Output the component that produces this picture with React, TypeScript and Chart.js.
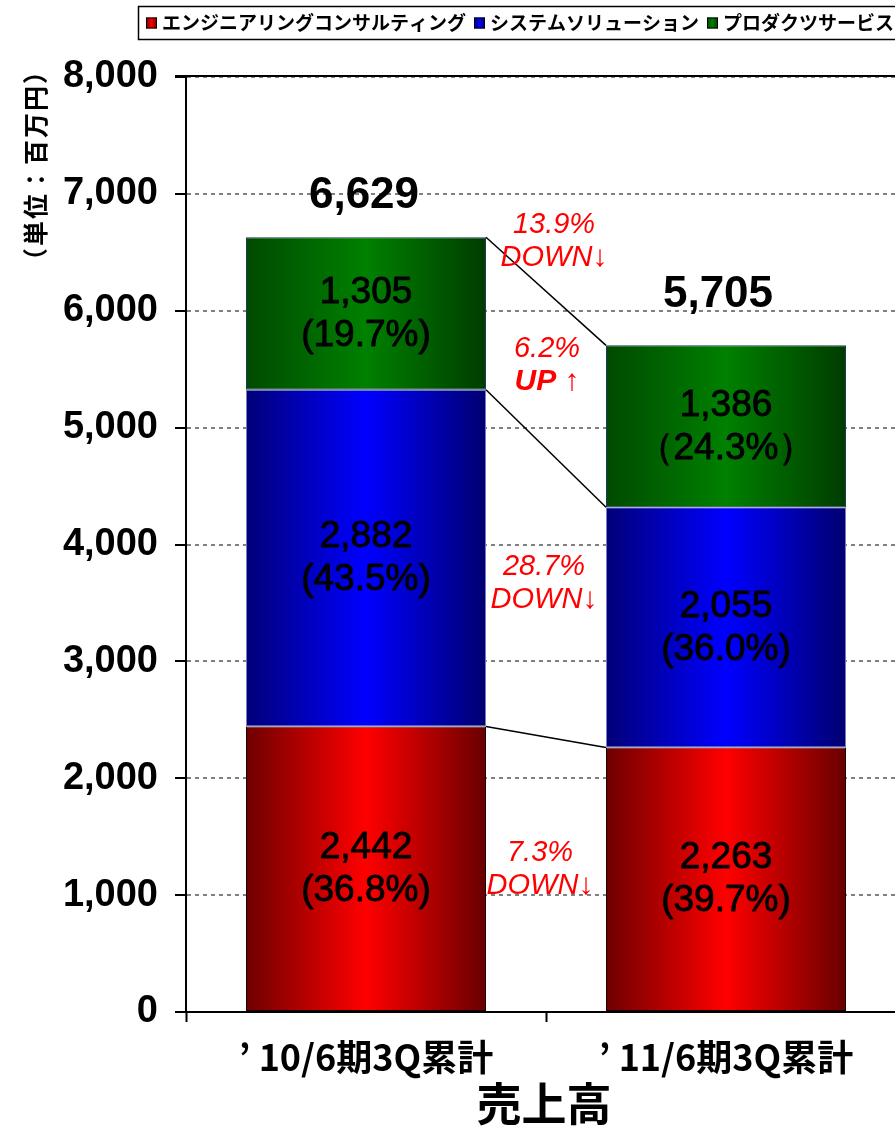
import React, { useEffect, useRef } from "react";
import { Chart, registerables } from "chart.js";

Chart.register(...registerables);

// ---------- data ----------
const categories = ["’ 10/6期3Q累計", "’ 11/6期3Q累計"];
const seriesNames = ["エンジニアリングコンサルティング", "システムソリューション", "プロダクツサービス"];
const engineering = [2442, 2263];
const systems = [2882, 2055];
const products = [1305, 1386];
const engineeringShare = ["(36.8%)", "(39.7%)"];
const systemsShare = ["(43.5%)", "(36.0%)"];
const productsShare = ["(19.7%)", "（24.3%）"];
const totals = [6629, 5705];
// change annotations: total, products, systems, engineering
const changeRates = ["13.9%", "6.2%", "28.7%", "7.3%"];
const changeDirs = ["DOWN", "UP", "DOWN", "DOWN"];
const yMin = 0;
const yMax = 8000;
const yStep = 1000;
const yAxisTitle = "（単位：百万円）";
const chartTitle = "売上高";

// ---------- styles ----------
const SANS = "'Liberation Sans', Arial, sans-serif";
const JP = "'Noto Sans CJK JP', 'Noto Sans CJK SC', sans-serif";
const palettes = [
  ["#6e0000", "#ff0000", "#680000"],
  ["#000078", "#0000ff", "#000070"],
  ["#004a00", "#008000", "#003c00"],
];
const borderColors = ["#1a0000", "#7a7ac8", "#1c3d5a"];
const BAR_PCT = 240 / 360;

function grad(ctx: CanvasRenderingContext2D, x0: number, x1: number, p: string[]) {
  const g = ctx.createLinearGradient(x0, 0, x1, 0);
  g.addColorStop(0, p[0]);
  g.addColorStop(0.5, p[1]);
  g.addColorStop(1, p[2]);
  return g;
}

export default function App() {
  const ref = useRef<HTMLCanvasElement>(null);

  useEffect(() => {
    const canvas = ref.current!;
    const seriesData = [engineering, systems, products];
    const shares = [engineeringShare, systemsShare, productsShare];

    const datasets = seriesData.map((d, i) => ({
      label: seriesNames[i],
      data: d,
      backgroundColor: (c: any) => {
        const chart = c.chart;
        const ca = chart.chartArea;
        if (!ca) return palettes[i][1];
        const xs = chart.scales.x;
        const cx = xs.getPixelForValue(c.dataIndex);
        const half = ((ca.right - ca.left) / categories.length) * BAR_PCT / 2;
        return grad(chart.ctx, cx - half, cx + half, palettes[i]);
      },
      borderColor: borderColors[i],
      borderWidth: 1,
      borderSkipped: false,
      barPercentage: BAR_PCT,
      categoryPercentage: 1,
    }));

    const totalDx = [-2, -8];
    const totalDy = [41, 50];
    const annotY = [6601, 5540, 3675, 1228];
    const annotDx = [8, 1, -2, -6];

    const overlay = {
      id: "overlay",
      afterDatasetsDraw(chart: any) {
        const ctx: CanvasRenderingContext2D = chart.ctx;
        const metas = [0, 1, 2].map((i) => chart.getDatasetMeta(i));
        ctx.save();
        // connector lines
        ctx.strokeStyle = "#000";
        ctx.lineWidth = 1.5;
        for (const m of metas) {
          const a: any = m.data[0];
          const b: any = m.data[1];
          ctx.beginPath();
          ctx.moveTo(a.x + a.width / 2, a.y);
          ctx.lineTo(b.x - b.width / 2, b.y);
          ctx.stroke();
        }
        // segment labels
        ctx.fillStyle = "#000";
        ctx.strokeStyle = "#000";
        ctx.lineWidth = 0.9;
        ctx.lineJoin = "round";
        ctx.textAlign = "center";
        ctx.textBaseline = "middle";
        ctx.font = `37px ${SANS}`;
        metas.forEach((m: any, di: number) => {
          m.data.forEach((el: any, j: number) => {
            const cy = (el.y + el.base) / 2;
            const t1 = seriesData[di][j].toLocaleString("en-US");
            const t2 = shares[di][j];
            ctx.fillText(t1, el.x, cy - 21);
            ctx.strokeText(t1, el.x, cy - 21);
            ctx.fillText(t2, el.x, cy + 22);
            ctx.strokeText(t2, el.x, cy + 22);
          });
        });
        // totals
        ctx.font = `bold 44px ${SANS}`;
        metas[2].data.forEach((el: any, j: number) => {
          ctx.fillText(totals[j].toLocaleString("en-US"), el.x + totalDx[j], el.y - totalDy[j]);
        });
        // change annotations
        const xs = chart.scales.x;
        const ys = chart.scales.y;
        const midX = (xs.getPixelForValue(0) + xs.getPixelForValue(1)) / 2;
        ctx.fillStyle = "#ff0000";
        changeRates.forEach((rate, k) => {
          const ax = midX + annotDx[k];
          const ay = ys.getPixelForValue(annotY[k]);
          ctx.textAlign = "center";
          ctx.font = `italic 29px ${SANS}`;
          ctx.fillText(rate, ax, ay - 16);
          const up = changeDirs[k] === "UP";
          const word = changeDirs[k];
          const arrow = up ? " ↑" : "↓";
          const wFont = up ? `italic bold 30px ${SANS}` : `italic 29px ${SANS}`;
          const aFont = `30px ${SANS}`;
          ctx.font = wFont;
          const w1 = ctx.measureText(word).width;
          ctx.font = aFont;
          const w2 = ctx.measureText(arrow).width;
          const start = ax - (w1 + w2) / 2;
          ctx.textAlign = "left";
          ctx.font = wFont;
          ctx.fillText(word, start, ay + 17);
          ctx.font = aFont;
          ctx.fillText(arrow, start + w1, ay + 17);
        });
        ctx.restore();
      },
      afterDraw(chart: any) {
        const ctx: CanvasRenderingContext2D = chart.ctx;
        const ca = chart.chartArea;
        ctx.save();
        // top solid line
        ctx.strokeStyle = "#000";
        ctx.lineWidth = 2;
        ctx.beginPath();
        ctx.moveTo(ca.left - 11, ca.top - 1);
        ctx.lineTo(chart.width, ca.top - 1);
        ctx.stroke();
        // legend
        ctx.lineWidth = 1.5;
        ctx.strokeRect(138.5, 6.5, 790, 33);
        ctx.font = `bold 19px ${JP}`;
        ctx.textAlign = "left";
        ctx.textBaseline = "middle";
        let x = 146;
        const cy = 23;
        seriesNames.forEach((name, i) => {
          ctx.fillStyle = grad(ctx, x, x + 11, palettes[i]);
          ctx.fillRect(x, cy - 5.5, 11, 11);
          ctx.lineWidth = 1;
          ctx.strokeStyle = "#000";
          ctx.strokeRect(x + 0.5, cy - 5, 10, 10);
          ctx.fillStyle = "#000";
          ctx.fillText(name, x + 16, cy);
          x = x + 16 + ctx.measureText(name).width + 8;
        });
        // y axis title
        ctx.save();
        ctx.translate(35, 165);
        ctx.rotate(-Math.PI / 2);
        ctx.textAlign = "center";
        ctx.font = `bold 25px ${JP}`;
        (ctx as any).letterSpacing = "2px";
        ctx.fillText(yAxisTitle, 0, 0);
        (ctx as any).letterSpacing = "0px";
        ctx.restore();
        // chart title
        ctx.textAlign = "center";
        ctx.textBaseline = "middle";
        ctx.font = `bold 45px ${JP}`;
        ctx.fillStyle = "#000";
        ctx.fillText(chartTitle, 544, 1104);
        ctx.restore();
      },
    };

    const chart = new Chart(canvas, {
      type: "bar",
      data: { labels: categories, datasets: datasets as any },
      options: {
        responsive: false,
        animation: false,
        devicePixelRatio: 1,
        layout: { padding: { left: 0, top: 77, right: 14, bottom: 0 } },
        plugins: {
          legend: { display: false },
          title: { display: false },
          tooltip: { enabled: false },
        },
        scales: {
          x: {
            stacked: true,
            offset: true,
            grid: {
              display: true,
              drawOnChartArea: false,
              offset: true,
              drawTicks: true,
              tickLength: 10,
              tickColor: "#000",
              tickWidth: 2,
            },
            border: { color: "#000", width: 2 },
            ticks: {
              color: "#000",
              font: { family: JP, size: 36, weight: "bold" },
              padding: 14,
              maxRotation: 0,
              autoSkip: false,
            },
            afterFit: (s: any) => {
              s.height = 116;
            },
          },
          y: {
            stacked: true,
            min: yMin,
            max: yMax,
            ticks: {
              stepSize: yStep,
              color: "#000",
              font: { family: SANS, size: 38, weight: "bold" },
              padding: 17,
              callback: (v: any) => Number(v).toLocaleString("en-US"),
            },
            grid: {
              color: (c: any) => (c.tick && c.tick.value === 0 ? "rgba(0,0,0,0)" : "#808080"),
              lineWidth: 2,
              tickColor: "#000",
              tickWidth: 2,
              tickLength: 11,
            },
            border: { color: "#000", width: 2, dash: [4, 4] },
            afterFit: (s: any) => {
              s.width = 186;
            },
          },
        },
      } as any,
      plugins: [overlay],
    });
    return () => chart.destroy();
  }, []);

  return (
    <div
      style={{
        position: "fixed",
        left: 0,
        top: 0,
        width: 895,
        height: 1128,
        overflow: "hidden",
        background: "#fff",
      }}
    >
      <canvas ref={ref} width={920} height={1128} style={{ width: 920, height: 1128, display: "block" }} />
    </div>
  );
}
